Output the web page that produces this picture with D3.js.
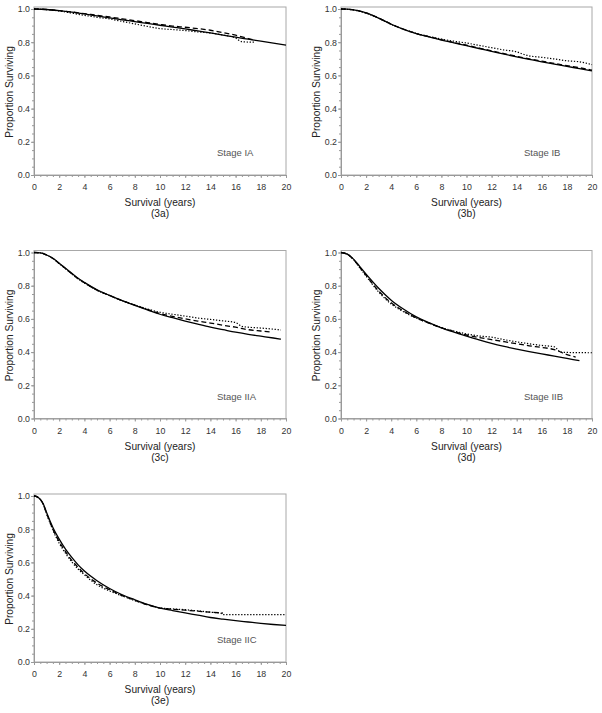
<!DOCTYPE html>
<html><head><meta charset="utf-8">
<script src="https://cdn.jsdelivr.net/npm/d3@7"></script>
<style>body{margin:0;background:#fff}svg{display:block}</style>
</head><body><svg id="c" width="602" height="713"></svg>
<script>
// ---- tick labels ----
const xTicks = [0,2,4,6,8,10,12,14,16,18,20];
const yTicks = [0.0,0.2,0.4,0.6,0.8,1.0];
const stageLabels = ["Stage IA","Stage IB","Stage IIA","Stage IIB","Stage IIC"];
const panelTags = ["(3a)","(3b)","(3c)","(3d)","(3e)"];

// ---- Stage IA ----
const a_solid_t = [0,1,2,3,4,5,6,7,8,9,10,11,12,13,14,15,16,17,18,19,20];
const a_solid_s = [1.0,0.997,0.99,0.981,0.97,0.958,0.946,0.935,0.924,0.913,0.902,0.891,0.88,0.868,0.856,0.843,0.83,0.818,0.806,0.795,0.783];
const a_dash_t = [0,1,2,3,4,5,6,7,8,9,10,11,12,13,14,15,16,17,17.5];
const a_dash_s = [1.0,0.997,0.99,0.982,0.972,0.962,0.952,0.941,0.93,0.918,0.907,0.897,0.89,0.882,0.872,0.858,0.842,0.822,0.812];
const a_dot_t = [0,1,2,3,4,5,6,7,8,9,10,11,12,13,14,15,16,16.5,17.5];
const a_dot_s = [1.0,0.996,0.988,0.975,0.962,0.95,0.94,0.925,0.91,0.895,0.882,0.876,0.87,0.862,0.855,0.843,0.825,0.803,0.80];

// ---- Stage IB ----
const b_solid_t = [0,0.5,1,1.5,2,3,4,5,6,7,8,9,10,11,12,13,14,15,16,17,18,19,20];
const b_solid_s = [1.0,0.999,0.995,0.987,0.976,0.945,0.908,0.877,0.851,0.832,0.813,0.796,0.779,0.762,0.745,0.728,0.712,0.697,0.682,0.668,0.654,0.641,0.627];
const b_dash_t = [0,0.5,1,1.5,2,3,4,5,6,7,8,9,10,11,12,13,14,15,16,17,18,19,20];
const b_dash_s = [1.0,0.999,0.995,0.987,0.976,0.946,0.909,0.878,0.852,0.833,0.815,0.798,0.782,0.765,0.748,0.731,0.715,0.7,0.686,0.672,0.659,0.646,0.632];
const b_dot_t = [0,0.5,1,1.5,2,3,4,5,6,7,8,9,10,11,12,13,14,14.5,15,16,17,18,19,20];
const b_dot_s = [1.0,0.998,0.994,0.986,0.975,0.944,0.907,0.877,0.853,0.835,0.819,0.806,0.795,0.781,0.767,0.753,0.742,0.728,0.718,0.709,0.699,0.688,0.682,0.665];

// ---- Stage IIA ----
const c_solid_t = [0,0.5,1,1.5,2,2.5,3,3.5,4,5,6,7,8,9,10,11,12,13,14,15,16,17,18,19,19.6];
const c_solid_s = [1.0,0.998,0.985,0.965,0.935,0.905,0.875,0.845,0.82,0.775,0.742,0.71,0.682,0.655,0.628,0.607,0.587,0.568,0.55,0.535,0.52,0.507,0.496,0.485,0.478];
const c_dash_t = [0,0.5,1,1.5,2,2.5,3,3.5,4,5,6,7,8,9,10,11,12,13,14,15,16,17,18,18.7];
const c_dash_s = [1.0,0.998,0.985,0.964,0.934,0.903,0.872,0.842,0.818,0.773,0.741,0.71,0.683,0.657,0.632,0.615,0.6,0.587,0.575,0.562,0.55,0.535,0.527,0.522];
const c_dot_t = [0,0.5,1,1.5,2,2.5,3,3.5,4,5,6,7,8,9,10,11,12,13,14,15,16,16.5,17,18,19,19.6];
const c_dot_s = [1.0,0.998,0.985,0.964,0.933,0.902,0.871,0.841,0.816,0.772,0.74,0.71,0.684,0.66,0.64,0.628,0.617,0.605,0.597,0.588,0.578,0.555,0.55,0.545,0.538,0.533];

// ---- Stage IIB ----
const d_solid_t = [0,0.5,1,1.5,2,3,4,5,6,7,8,9,10,11,12,13,14,15,16,17,18,19];
const d_solid_s = [1.0,0.99,0.96,0.915,0.87,0.785,0.713,0.658,0.612,0.577,0.546,0.52,0.496,0.473,0.452,0.434,0.418,0.403,0.389,0.376,0.362,0.348];
const d_dash_t = [0,0.5,1,1.5,2,3,4,5,6,7,8,9,10,11,12,13,14,15,16,17,18,18.7];
const d_dash_s = [1.0,0.99,0.958,0.91,0.862,0.768,0.697,0.647,0.606,0.575,0.547,0.524,0.503,0.488,0.475,0.463,0.45,0.438,0.428,0.415,0.385,0.37];
const d_dot_t = [0,0.5,1,1.5,2,3,4,5,6,7,8,9,10,11,12,13,14,15,16,17,17.5,18,20];
const d_dot_s = [1.0,0.99,0.957,0.907,0.858,0.762,0.69,0.642,0.605,0.575,0.548,0.527,0.51,0.497,0.49,0.475,0.462,0.45,0.44,0.432,0.40,0.398,0.396];

// ---- Stage IIC ----
const e_solid_t = [0,0.25,0.5,0.75,1,1.5,2,2.5,3,3.5,4,5,6,7,8,9,10,11,12,13,14,15,16,17,18,19,20];
const e_solid_s = [1.0,0.995,0.98,0.95,0.9,0.81,0.74,0.68,0.63,0.585,0.548,0.49,0.443,0.405,0.375,0.347,0.325,0.31,0.296,0.282,0.268,0.258,0.249,0.241,0.233,0.226,0.22];
const e_dash_t = [0,0.25,0.5,0.75,1,1.5,2,2.5,3,3.5,4,5,6,7,8,9,10,11,12,13,14,15];
const e_dash_s = [1.0,0.995,0.98,0.948,0.895,0.8,0.725,0.665,0.612,0.57,0.532,0.475,0.435,0.4,0.372,0.345,0.325,0.318,0.312,0.306,0.3,0.295];
const e_dot_t = [0,0.25,0.5,0.75,1,1.5,2,2.5,3,3.5,4,5,6,7,8,9,10,11,12,13,14,14.8,15,20];
const e_dot_s = [1.0,0.995,0.979,0.946,0.892,0.795,0.715,0.655,0.603,0.56,0.525,0.465,0.428,0.398,0.37,0.345,0.326,0.32,0.315,0.308,0.3,0.295,0.285,0.285];

const panelData = [
  [[a_solid_t,a_solid_s],[a_dash_t,a_dash_s],[a_dot_t,a_dot_s]],
  [[b_solid_t,b_solid_s],[b_dash_t,b_dash_s],[b_dot_t,b_dot_s]],
  [[c_solid_t,c_solid_s],[c_dash_t,c_dash_s],[c_dot_t,c_dot_s]],
  [[d_solid_t,d_solid_s],[d_dash_t,d_dash_s],[d_dot_t,d_dot_s]],
  [[e_solid_t,e_solid_s],[e_dash_t,e_dash_s],[e_dot_t,e_dot_s]]
];

// layout (pixel boxes of each plot area)
const boxes = [
  {L:34, R:286, T:9,   B:175},
  {L:341,R:592, T:9,   B:175},
  {L:34, R:286, T:252.5,B:418.5},
  {L:341,R:592, T:252.5,B:418.5},
  {L:34, R:286, T:496, B:662}
];
const styles = [
  {dash:null, w:1.3},
  {dash:"5,3", w:1.3},
  {dash:"1.3,1.7", w:1.2}
];
const FONT = "'Liberation Sans', Arial, sans-serif";
const svg = d3.select("#c");

boxes.forEach((bx, i) => {
  const g = svg.append("g");
  const x = d3.scaleLinear().domain([0,20]).range([bx.L, bx.R]);
  const y = d3.scaleLinear().domain([0,1]).range([bx.B, bx.T]);

  // frame
  g.append("rect").attr("x", bx.L).attr("y", bx.T-2)
    .attr("width", bx.R-bx.L).attr("height", bx.B-bx.T+2)
    .attr("fill","none").attr("stroke","#a8a8a8").attr("stroke-width",1);

  // minor ticks
  const xMinor = d3.range(0, 20.001, 0.5);
  const yMinor = d3.range(0, 1.0001, 0.05);
  g.append("g").attr("transform",`translate(0,${bx.B})`)
    .call(d3.axisBottom(x).tickValues(xMinor).tickSize(2).tickFormat(""))
    .call(s=>{s.select(".domain").remove(); s.selectAll("line").attr("stroke","#999");});
  g.append("g").attr("transform",`translate(${bx.L},0)`)
    .call(d3.axisLeft(y).tickValues(yMinor).tickSize(2).tickFormat(""))
    .call(s=>{s.select(".domain").remove(); s.selectAll("line").attr("stroke","#999");});

  // major axes
  g.append("g").attr("transform",`translate(0,${bx.B})`)
    .call(d3.axisBottom(x).tickValues(xTicks).tickSize(3).tickPadding(6).tickSizeOuter(0).tickFormat(d3.format("d")))
    .call(s=>{
      s.select(".domain").attr("stroke","#999");
      s.selectAll("line").attr("stroke","#999");
      s.selectAll("text").attr("font-family",FONT).attr("font-size",8.8).attr("fill","#333");
    });
  g.append("g").attr("transform",`translate(${bx.L},0)`)
    .call(d3.axisLeft(y).tickValues(yTicks).tickSize(3).tickPadding(1).tickSizeOuter(0).tickFormat(d3.format(".1f")))
    .call(s=>{
      s.select(".domain").attr("stroke","#999");
      s.selectAll("line").attr("stroke","#999");
      s.selectAll("text").attr("font-family",FONT).attr("font-size",8.8).attr("fill","#333");
    });

  // curves
  const line = d3.line().x(d=>x(d[0])).y(d=>y(d[1])).curve(d3.curveMonotoneX);
  panelData[i].forEach((ser, k) => {
    const pts = ser[0].map((t,j)=>[t, ser[1][j]]);
    const p = g.append("path").datum(pts).attr("d", line)
      .attr("fill","none").attr("stroke","#000").attr("stroke-width", styles[k].w);
    if (styles[k].dash) p.attr("stroke-dasharray", styles[k].dash);
  });

  // stage label
  g.append("text").attr("x", bx.L+183).attr("y", bx.B-19)
    .attr("font-family",FONT).attr("font-size",9.5).attr("fill","#555")
    .text(stageLabels[i]);

  // axis titles
  const cx = (bx.L+bx.R)/2;
  g.append("text").attr("x", cx).attr("y", bx.B+31).attr("text-anchor","middle")
    .attr("font-family",FONT).attr("font-size",10.2).attr("fill","#222").text("Survival (years)");
  g.append("text").attr("x", cx).attr("y", bx.B+42).attr("text-anchor","middle")
    .attr("font-family",FONT).attr("font-size",10.2).attr("fill","#222").text(panelTags[i]);
  const cy = (bx.T+bx.B)/2;
  g.append("text").attr("transform",`translate(${bx.L-21},${cy}) rotate(-90)`)
    .attr("text-anchor","middle").attr("font-family",FONT).attr("font-size",10.2).attr("fill","#222")
    .text("Proportion Surviving");
});
</script>
</body></html>
